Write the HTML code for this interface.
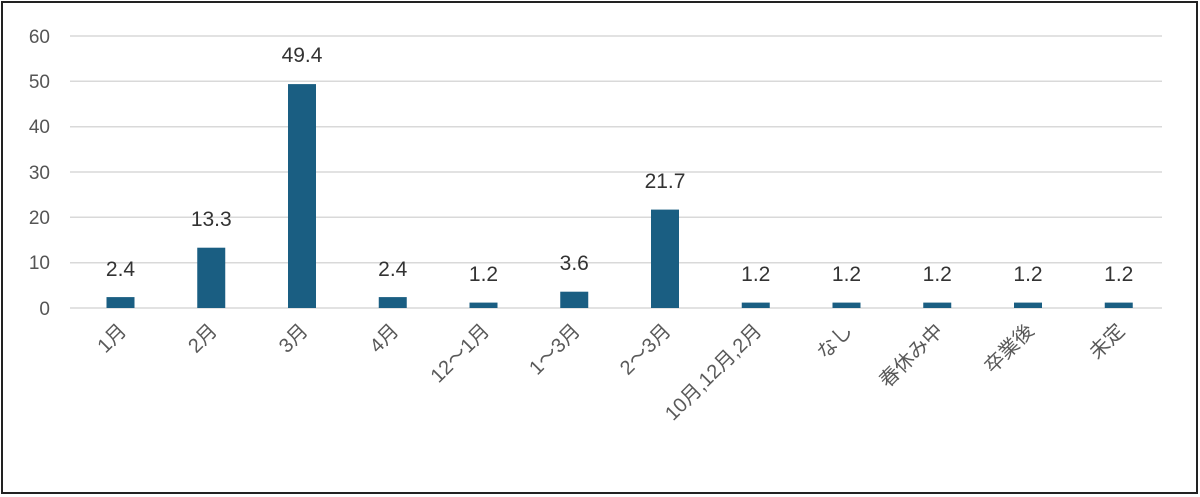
<!DOCTYPE html>
<html><head><meta charset="utf-8"><style>
html,body{margin:0;padding:0;background:#fff}
svg{display:block}
text{font-family:"Liberation Sans","Noto Sans CJK JP",sans-serif}
</style></head><body>
<svg width="1200" height="497" viewBox="0 0 1200 497">
<rect x="2" y="2" width="1195" height="491" fill="#fff" stroke="#222" stroke-width="2"/>
<g stroke="#d9d9d9" stroke-width="1.5">
<line x1="70" x2="1162" y1="308" y2="308"/>
<line x1="70" x2="1162" y1="262.7" y2="262.7"/>
<line x1="70" x2="1162" y1="217.3" y2="217.3"/>
<line x1="70" x2="1162" y1="172" y2="172"/>
<line x1="70" x2="1162" y1="126.7" y2="126.7"/>
<line x1="70" x2="1162" y1="81.3" y2="81.3"/>
<line x1="70" x2="1162" y1="36" y2="36"/>
</g>
<g font-size="19" fill="#555" text-anchor="end">
<text x="50" y="315">0</text><text x="50" y="269">10</text><text x="50" y="224">20</text>
<text x="50" y="179">30</text><text x="50" y="133">40</text><text x="50" y="88">50</text><text x="50" y="43">60</text>
</g>
<g fill="#1a5e82">
<rect x="106.5" y="297.1" width="28" height="10.9"/>
<rect x="197.25" y="247.7" width="28" height="60.3"/>
<rect x="288" y="84.1" width="28" height="223.9"/>
<rect x="378.75" y="297.1" width="28" height="10.9"/>
<rect x="469.5" y="302.6" width="28" height="5.4"/>
<rect x="560.25" y="291.7" width="28" height="16.3"/>
<rect x="651" y="209.6" width="28" height="98.4"/>
<rect x="741.75" y="302.6" width="28" height="5.4"/>
<rect x="832.5" y="302.6" width="28" height="5.4"/>
<rect x="923.25" y="302.6" width="28" height="5.4"/>
<rect x="1014" y="302.6" width="28" height="5.4"/>
<rect x="1104.75" y="302.6" width="28" height="5.4"/>
</g>
<g font-size="21" fill="#333" text-anchor="middle">
<text x="120.5" y="276">2.4</text>
<text x="211.25" y="226">13.3</text>
<text x="302" y="62">49.4</text>
<text x="392.75" y="276">2.4</text>
<text x="483.5" y="281">1.2</text>
<text x="574.25" y="270">3.6</text>
<text x="665" y="188">21.7</text>
<text x="755.75" y="281">1.2</text>
<text x="846.5" y="281">1.2</text>
<text x="937.25" y="281">1.2</text>
<text x="1028" y="281">1.2</text>
<text x="1118.75" y="281">1.2</text>
</g>
<g font-size="20" fill="#595959" text-anchor="end">
<text transform="translate(127.5,332) rotate(-45)">1月</text>
<text transform="translate(218.25,332) rotate(-45)">2月</text>
<text transform="translate(309,332) rotate(-45)">3月</text>
<text transform="translate(399.75,332) rotate(-45)">4月</text>
<text transform="translate(490.5,332) rotate(-45)">12～1月</text>
<text transform="translate(581.25,332) rotate(-45)">1～3月</text>
<text transform="translate(672,332) rotate(-45)">2～3月</text>
<text transform="translate(762.75,332) rotate(-45)">10月,12月,2月</text>
<text transform="translate(853.5,332) rotate(-45)">なし</text>
<text transform="translate(944.25,332) rotate(-45)">春休み中</text>
<text transform="translate(1035,332) rotate(-45)">卒業後</text>
<text transform="translate(1125.75,332) rotate(-45)">未定</text>
</g>
</svg>
</body></html>
